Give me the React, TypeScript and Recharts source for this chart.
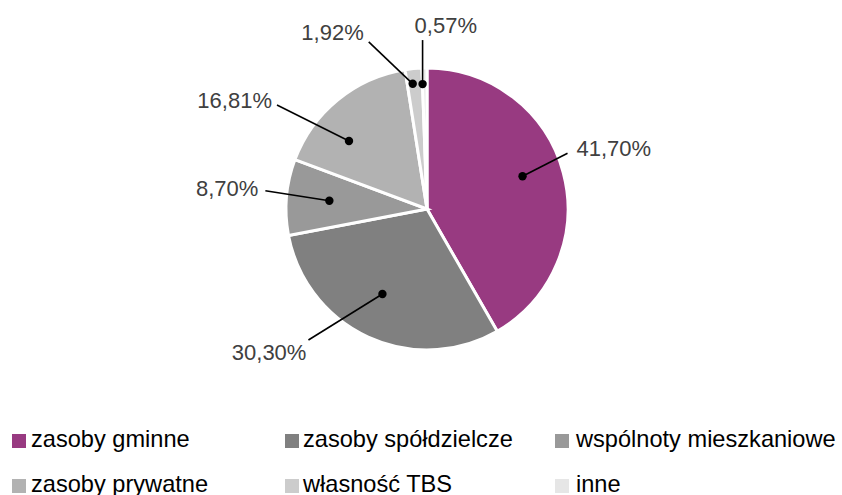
import * as React from "react";
import { PieChart, Pie, Cell, Legend } from "recharts";

// udział zasobów mieszkaniowych wg form własności (%)
const categories = [
  "zasoby gminne",
  "zasoby spółdzielcze",
  "wspólnoty mieszkaniowe",
  "zasoby prywatne",
  "własność TBS",
  "inne",
];
const shares = [41.7, 30.3, 8.7, 16.81, 1.92, 0.57];
const colors = ["#983A81", "#808080", "#999999", "#B2B2B2", "#CCCCCC", "#E6E6E6"];

// leader-line placement per slice (dot shift in deg, dot radius, line end offset, text offset)
const labelLayout = [
  { shift: -4, r: 101, end: [45, -23], text: [9, 3], anchor: "start" },
  { shift: 3, r: 96, end: [-74, 46], text: [-2, 20], anchor: "end" },
  { shift: 0, r: 98, end: [-64, -10], text: [-7, 5], anchor: "end" },
  { shift: -9.7, r: 103.5, end: [-72, -36], text: [-5, 3], anchor: "end" },
  { shift: -1, r: 126, end: [-44, -42], text: [-5, -2], anchor: "end" },
  { shift: -1, r: 125, end: [0, -44], text: [-8, -7], anchor: "start" },
];

const data = categories.map((name, i) => ({ name, value: shares[i] }));

const FONT = '"Liberation Sans", Arial, sans-serif';
const RAD = Math.PI / 180;

function fmt(v: number) {
  return `${v.toFixed(2).replace(".", ",")}%`;
}

function renderLabel(props: any) {
  const { cx, cy, midAngle, index, value } = props;
  const l = labelLayout[index];
  const theta = (90 - midAngle + l.shift) * RAD;
  const dx = cx + l.r * Math.sin(theta);
  const dy = cy - l.r * Math.cos(theta);
  const ex = dx + l.end[0];
  const ey = dy + l.end[1];
  return (
    <g key={`lbl-${index}`}>
      <line x1={dx} y1={dy} x2={ex} y2={ey} stroke="#000" strokeWidth={1.6} />
      <circle cx={dx} cy={dy} r={4.2} fill="#000" />
      <text
        x={ex + l.text[0]}
        y={ey + l.text[1]}
        textAnchor={l.anchor as any}
        fill="#404040"
        fontSize={22}
        fontFamily={FONT}
      >
        {fmt(value)}
      </text>
    </g>
  );
}

const legendCols = [
  { marker: 12, text: 31 },
  { marker: 285, text: 303 },
  { marker: 555, text: 576 },
];

function LegendBox() {
  return (
    <div style={{ position: "relative", width: 842, height: 75, fontFamily: FONT }}>
      {categories.map((name, i) => {
        const col = legendCols[i % 3];
        const row = Math.floor(i / 3);
        return (
          <React.Fragment key={name}>
            <div
              style={{
                position: "absolute",
                left: col.marker,
                top: 14 + row * 45,
                width: 14,
                height: 14,
                background: colors[i],
              }}
            />
            <div
              style={{
                position: "absolute",
                left: col.text,
                top: 8 + row * 45,
                fontSize: 23.6,
                lineHeight: "23.6px",
                color: "#000",
                whiteSpace: "nowrap",
              }}
            >
              {name}
            </div>
          </React.Fragment>
        );
      })}
    </div>
  );
}

export default function App() {
  return (
    <div style={{ position: "absolute", left: 0, top: 0, width: 842, height: 495, background: "#fff", overflow: "hidden" }}>
      <PieChart width={842} height={495} margin={{ top: 0, right: 0, bottom: 0, left: 0 }}>
        <Pie
          data={data}
          dataKey="value"
          nameKey="name"
          cx={427}
          cy={209}
          outerRadius={141}
          startAngle={90}
          endAngle={-270}
          stroke="#fff"
          strokeWidth={3}
          label={renderLabel}
          labelLine={false}
          isAnimationActive={false}
        >
          {data.map((d, i) => (
            <Cell key={d.name} fill={colors[i]} />
          ))}
        </Pie>
        <Legend
          content={() => <LegendBox />}
          wrapperStyle={{ left: 0, top: 420, width: 842, bottom: "auto" }}
        />
      </PieChart>
    </div>
  );
}
